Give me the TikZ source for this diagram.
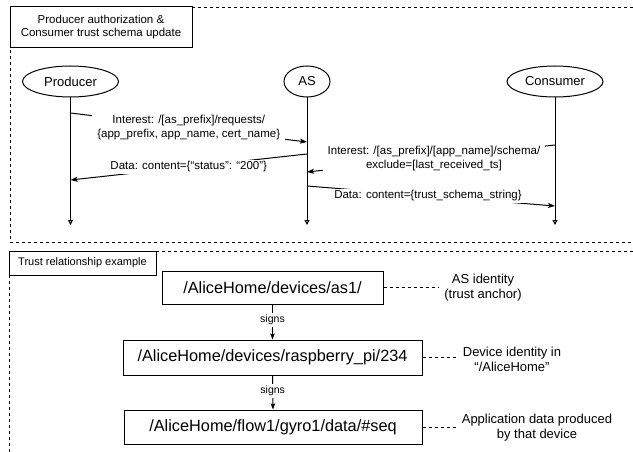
\documentclass[tikz,border=0pt]{standalone}
\usepackage{fontspec}
\setmainfont{Liberation Sans}
\usetikzlibrary{arrows.meta,shapes.geometric}
\begin{document}
\begin{tikzpicture}[x=1pt,y=1pt,
  frame/.style={draw, dash pattern=on 3pt off 3pt, line width=0.8pt},
  titlebox/.style={draw, fill=white, line width=1pt, align=center, inner sep=0pt},
  actor/.style={draw, ellipse, line width=1pt, inner sep=0pt, font=\fontsize{13}{15}\selectfont},
  lifeline/.style={draw, line width=1pt, -{Triangle[open,length=5pt,width=5pt]}},
  msg/.style={draw, line width=1pt, -{Stealth[length=7pt,width=5pt,inset=1.5pt]}},
  msglabel/.style={fill=white, align=center, font=\fontsize{11.5}{13.3}\selectfont, inner xsep=5pt, inner ysep=2pt},
  namebox/.style={draw, line width=1pt, fill=white, font=\fontsize{16.3}{19}\selectfont, inner sep=0pt},
  note/.style={align=center, font=\fontsize{13}{15}\selectfont, inner xsep=6pt},
  link/.style={draw, dash pattern=on 3pt off 3pt, line width=0.8pt},
  signarrow/.style={draw, line width=1pt, -{Stealth[length=6pt,width=4.5pt,inset=1pt]}},
  signlabel/.style={fill=white, font=\fontsize{10.5}{12}\selectfont, inner sep=2pt}
]
\useasboundingbox (0,0) rectangle (633,-452);
\fill[white] (0,0) rectangle (633,-452);

% ---------- upper frame ----------
\draw[frame] (633,-7) -- (10,-7) -- (10,-242) -- (633,-242);
\node[titlebox, minimum width=182pt, minimum height=41pt, font=\fontsize{11.5}{13}\selectfont]
  (t1) at (101,-27.5) {Producer authorization \&\\Consumer trust schema update};

% actors
\node[actor, minimum width=96pt, minimum height=31pt] (prod) at (70.5,-81.5) {Producer};
\node[actor, minimum width=46pt, minimum height=31pt] (as) at (307,-81.5) {AS};
\node[actor, minimum width=96pt, minimum height=31pt] (cons) at (555,-81.5) {Consumer};

% lifelines
\coordinate (prodend) at (70.5,-225);
\coordinate (asend) at (307,-225);
\coordinate (consend) at (555,-225);
\draw[lifeline] (prod.south) -- (prodend);
\draw[lifeline] (as.south) -- (asend);
\draw[lifeline] (cons.south) -- (consend);

% message points
\coordinate (p1) at (70.5,-113);
\coordinate (a1) at (307,-142);
\coordinate (a2) at (307,-154);
\coordinate (p2) at (70.5,-180);
\coordinate (c1) at (555,-145);
\coordinate (a3) at (307,-172);
\coordinate (a4) at (307,-186);
\coordinate (c2) at (555,-206);

\draw[msg] (p1) -- node[msglabel] {Interest: /[as\_prefix]/requests/\\\{app\_prefix, app\_name, cert\_name\}} (a1);
\draw[msg] (a2) -- node[msglabel] {Data: content=\{“status”: “200”\}} (p2);
\draw[msg] (c1) -- node[msglabel, xshift=3pt] {Interest: /[as\_prefix]/[app\_name]/schema/\\exclude=[last\_received\_ts]} (a3);
\draw[msg] (a4) -- node[msglabel, xshift=-3pt] {Data: content=\{trust\_schema\_string\}} (c2);

% ---------- lower frame ----------
\draw[frame] (633,-251) -- (9,-251) -- (9,-452);
\node[titlebox, minimum width=147pt, minimum height=24pt, font=\fontsize{11}{13}\selectfont]
  (t2) at (82.5,-263) {Trust relationship example};

\node[namebox, minimum width=221pt, minimum height=33pt] (b1) at (272.5,-287.5) {/AliceHome/devices/as1/};
\node[namebox, minimum width=299pt, minimum height=35pt] (b2) at (272.5,-357.5) {/AliceHome/devices/raspberry\_pi/234};
\node[namebox, minimum width=298pt, minimum height=34pt] (b3) at (273,-427) {/AliceHome/flow1/gyro1/data/\#seq};

\draw[signarrow] (b1.south) -- node[signlabel, pos=0.45] {signs} (b2.north);
\draw[signarrow] (b2.south) -- node[signlabel, pos=0.45] {signs} (b3.north);

\node[note] (n1) at (483,-288) {AS identity\\(trust anchor)};
\node[note] (n2) at (512,-359) {Device identity in\\“/AliceHome”};
\node[note] (n3) at (537,-427.5) {Application data produced\\by that device};

\draw[link] (b1.east) -- (n1.west |- b1.east);
\draw[link] (b2.east) -- (n2.west |- b2.east);
\draw[link] (b3.east) -- (n3.west |- b3.east);
\end{tikzpicture}
\end{document}
